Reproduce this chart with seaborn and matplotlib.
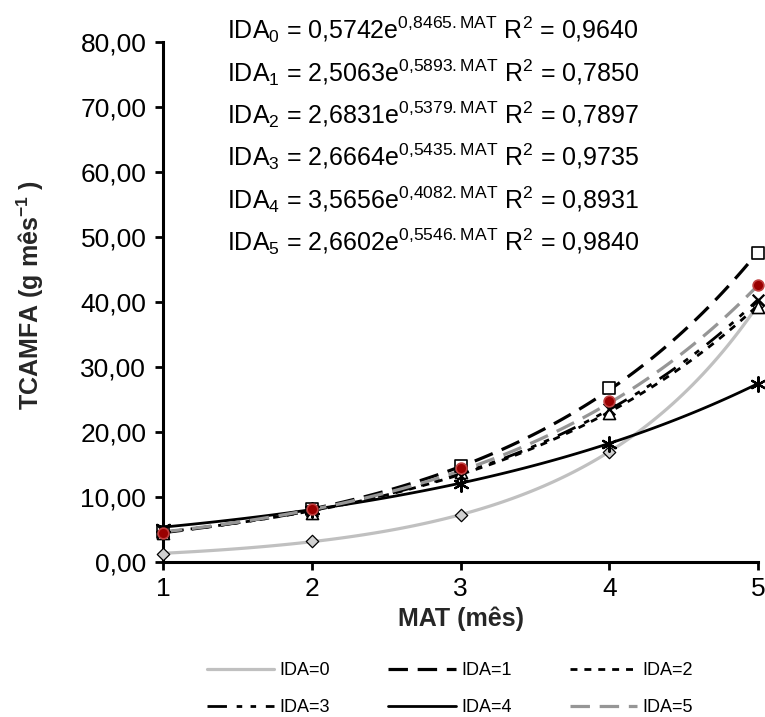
import numpy as np
import pandas as pd
import matplotlib
matplotlib.use("Agg")
import matplotlib.pyplot as plt
import seaborn as sns
from matplotlib.ticker import FuncFormatter, FixedLocator

# ---------------- data ----------------
mat = [1, 2, 3, 4, 5]
series = ["IDA=0", "IDA=1", "IDA=2", "IDA=3", "IDA=4", "IDA=5"]
ida0 = [1.3, 3.2, 7.3, 17.0, 39.6]
ida1 = [4.6, 8.2, 14.8, 26.8, 47.6]
ida2 = [4.5, 7.6, 13.8, 22.9, 39.3]
ida3 = [4.7, 7.9, 13.2, 23.5, 40.3]
ida4 = [5.3, 8.0, 12.0, 18.2, 27.4]
ida5 = [4.5, 8.2, 14.5, 24.7, 42.6]
# trendline coefficients shown in the chart: y = a * exp(b * MAT)
coef_a = [0.5742, 2.5063, 2.6831, 2.6664, 3.5656, 2.6602]
coef_b = [0.8465, 0.5893, 0.5379, 0.5435, 0.4082, 0.5546]
r2 = ["0,9640", "0,7850", "0,7897", "0,9735", "0,8931", "0,9840"]
a_txt = ["0,5742", "2,5063", "2,6831", "2,6664", "3,5656", "2,6602"]
b_txt = ["0,8465", "0,5893", "0,5379", "0,5435", "0,4082", "0,5546"]
y_ticks = [0, 10, 20, 30, 40, 50, 60, 70, 80]
x_ticks = [1, 2, 3, 4, 5]

values = [ida0, ida1, ida2, ida3, ida4, ida5]
pts = pd.DataFrame({
    "MAT": np.tile(mat, len(series)),
    "val": np.concatenate(values),
    "serie": np.repeat(series, len(mat)),
})
xs = np.linspace(1, 5, 120)
trend = pd.DataFrame({
    "MAT": np.tile(xs, len(series)),
    "val": np.concatenate([a * np.exp(b * xs) for a, b in zip(coef_a, coef_b)]),
    "serie": np.repeat(series, len(xs)),
})

# ---------------- style ----------------
sns.set_theme(style="white")
plt.rcParams["font.family"] = ["Liberation Sans", "DejaVu Sans"]
plt.rcParams["mathtext.fontset"] = "custom"
plt.rcParams["mathtext.rm"] = "Liberation Sans"
plt.rcParams["mathtext.it"] = "Liberation Sans"
plt.rcParams["mathtext.bf"] = "Liberation Sans:bold"
plt.rcParams["mathtext.default"] = "regular"
plt.rcParams["lines.scale_dashes"] = False

line_colors = ["#c0c0c0", "black", "black", "black", "black", "#969696"]
dash_styles = [None, (14, 7), (5, 5), (14, 7, 4, 6, 4, 7), None, (14, 7)]
line_w = [2.3, 2.3, 2.0, 2.0, 2.0, 2.3]

fig = plt.figure(figsize=(7.65, 7.17), dpi=100)
ax = fig.add_axes([163 / 765, 1 - 562 / 717, (758 - 163) / 765, (562 - 42) / 717])

handles = []
for i, s in enumerate(series):
    sub = trend[trend["serie"] == s]
    sns.lineplot(data=sub, x="MAT", y="val", ax=ax, color=line_colors[i],
                 linewidth=line_w[i], label=s, legend=False, zorder=2)
    ln = ax.lines[-1]
    if dash_styles[i] is not None:
        ln.set_dashes(dash_styles[i])
        ln.set_dash_capstyle("butt")
    handles.append(ln)

marker_specs = [
    dict(marker="D", s=40, color="#d0d0d0", edgecolor="black", linewidth=0.9),
    dict(marker="s", s=70, color="white", edgecolor="black", linewidth=1.2),
    dict(marker="^", s=75, color="white", edgecolor="black", linewidth=1.2),
    dict(marker="x", s=70, color="black", linewidth=1.6),
    dict(marker=(6, 2, 0), s=110, color="black", linewidth=1.6),
    dict(marker="o", s=60, color="#990000", edgecolor="#c04040", linewidth=1.2),
]
for i, s in enumerate(series):
    sub = pts[pts["serie"] == s]
    sns.scatterplot(data=sub, x="MAT", y="val", ax=ax, legend=False, zorder=3,
                    clip_on=False, **marker_specs[i])

ax.set_xlim(1, 5)
ax.set_ylim(0, 80)
ax.xaxis.set_major_locator(FixedLocator(x_ticks))
ax.yaxis.set_major_locator(FixedLocator(y_ticks))
ax.yaxis.set_major_formatter(FuncFormatter(lambda v, p: f"{v:.2f}".replace(".", ",")))
ax.xaxis.set_major_formatter(FuncFormatter(lambda v, p: f"{int(v)}"))
for side in ["top", "right"]:
    ax.spines[side].set_visible(False)
for side in ["left", "bottom"]:
    ax.spines[side].set_color("black")
    ax.spines[side].set_linewidth(2.2)
ax.tick_params(axis="both", direction="out", length=6, width=2.0, colors="black",
               labelsize=19, left=True, bottom=True)
ax.tick_params(axis="y", pad=6)
ax.tick_params(axis="x", pad=5)

ax.set_xlabel("MAT (mês)", fontsize=18, fontweight="bold", labelpad=4)
ax.set_ylabel(r"TCAMFA (g mês$^{\mathbf{-1}}$ )", fontsize=18, fontweight="bold",
              va="center")
ax.yaxis.set_label_coords(30 / 765, 1 - 295 / 717, transform=fig.transFigure)

# equations
for i in range(6):
    txt = (f"IDA$_{i}$ = {a_txt[i]}e$^{{{b_txt[i].replace(',', '{,}')}.MAT}}$ "
           f"R$^2$ = {r2[i]}")
    fig.text(433 / 765, 1 - (39 + 42.4 * i) / 717, txt, ha="center", va="baseline",
             fontsize=18, color="black")

order = [0, 3, 1, 4, 2, 5]
leg = fig.legend(handles=[handles[k] for k in order], labels=[series[k] for k in order],
                 ncol=3, loc="center",
                 bbox_to_anchor=(450 / 765, 1 - 689 / 717), frameon=False,
                 fontsize=13, handlelength=3.75, handletextpad=0.3,
                 columnspacing=3.2, labelspacing=1.1)
for t in leg.get_texts():
    t.set_color("black")

fig.savefig("out.png", dpi=100)
